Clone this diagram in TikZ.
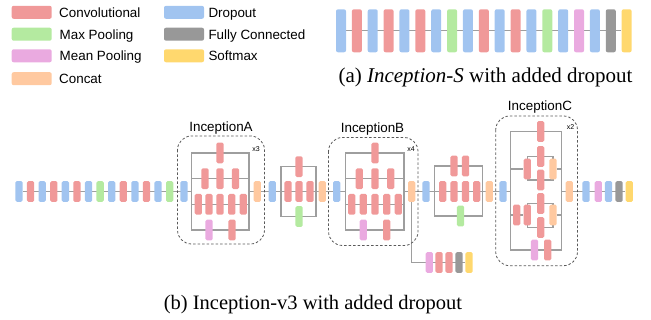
\documentclass[tikz,border=0pt]{standalone}
\usepackage{fontspec}
\setmainfont{Liberation Serif}
\setsansfont{Liberation Sans}
\usetikzlibrary{backgrounds}
\definecolor{cConv}{RGB}{240,153,153}
\definecolor{cMax}{RGB}{180,234,160}
\definecolor{cMean}{RGB}{234,170,224}
\definecolor{cCat}{RGB}{255,201,160}
\definecolor{cDrop}{RGB}{161,196,240}
\definecolor{cFC}{RGB}{152,152,152}
\definecolor{cSoft}{RGB}{255,216,110}
\definecolor{cLine}{RGB}{158,158,158}
\definecolor{cDash}{RGB}{90,90,90}
\begin{document}
\begin{tikzpicture}[x=1pt,y=-1pt,
 blk/.style={rectangle, rounded corners=1.5pt, minimum width=7.3pt, minimum height=20.7pt, inner sep=0pt, draw=none},
 bigblk/.style={rectangle, rounded corners=2pt, minimum width=10pt, minimum height=43pt, inner sep=0pt, draw=none},
 swatch/.style={rectangle, rounded corners=2pt, minimum width=40pt, minimum height=13pt, inner sep=0pt, draw=none},
 kConv/.style={fill=cConv}, kMax/.style={fill=cMax}, kMean/.style={fill=cMean},
 kCat/.style={fill=cCat}, kDrop/.style={fill=cDrop}, kFC/.style={fill=cFC}, kSoft/.style={fill=cSoft},
 legtxt/.style={anchor=base west, inner sep=0pt, font=\sffamily\fontsize{13.4}{16}\selectfont},
 modtxt/.style={anchor=base, inner sep=0pt, font=\sffamily\fontsize{13.4}{16}\selectfont},
 reptxt/.style={inner sep=0pt, font=\sffamily\fontsize{7}{8}\selectfont},
 captxt/.style={anchor=base, inner sep=0pt, font=\fontsize{20.5}{24}\selectfont},
 conn/.style={draw=cLine, line width=1.1pt},
 modbox/.style={draw=cDash, dash pattern=on 2.5pt off 2pt, line width=0.8pt, rounded corners=14pt},
]
\useasboundingbox (0,0) rectangle (651,320);

% ---------------- legend ----------------
\node[swatch,kConv] (lg1) at (31.7,12.3) {};
\node[swatch,kMax]  (lg2) at (31.7,34.2) {};
\node[swatch,kMean] (lg3) at (31.7,55.8) {};
\node[swatch,kCat]  (lg4) at (31.7,78.7) {};
\node[swatch,kDrop] (lg5) at (184,12.3) {};
\node[swatch,kFC]   (lg6) at (184,34.2) {};
\node[swatch,kSoft] (lg7) at (184,55.8) {};
\node[legtxt] (lt1) at (59,17.3) {Convolutional};
\node[legtxt] (lt2) at (59.5,39.2) {Max Pooling};
\node[legtxt] (lt3) at (59.5,60.8) {Mean Pooling};
\node[legtxt] (lt4) at (59,83.7) {Concat};
\node[legtxt] (lt5) at (208.3,17.3) {Dropout};
\node[legtxt] (lt6) at (208.3,39.2) {Fully Connected};
\node[legtxt] (lt7) at (208.3,60.8) {Softmax};

% ---------------- (a) Inception-S ----------------
\foreach \c [count=\i from 0] in {cDrop,cConv,cDrop,cConv,cDrop,cConv,cDrop,cMax,cDrop,cConv,cDrop,cConv,cDrop,cMax,cDrop,cMean,cDrop,cFC,cSoft}
  \node[bigblk,fill=\c] (s\i) at ({341+15.87*\i},30.8) {};
\node[captxt,font=\fontsize{21}{24}\selectfont] (capa) at (485.5,83) {(a) \textit{Inception-S} with added dropout};

% ---------------- (b) stem ----------------
\foreach \c [count=\i from 0] in {cDrop,cConv,cDrop,cConv,cDrop,cConv,cDrop,cMax,cDrop,cConv,cDrop,cConv,cDrop,cMax}
  \node[blk,fill=\c] (p\i) at ({19+11.59*\i},191.5) {};

% ---------------- InceptionA ----------------
\node[blk,kDrop] (Ain) at (184,191.5) {};
\coordinate (ATL) at (191.7,153); \coordinate (ABR) at (249,230);
\coordinate (A2L) at (191.7,178.7); \coordinate (A2R) at (249,178.7);
\coordinate (A3L) at (191.7,204.3); \coordinate (A3R) at (249,204.3);
\coordinate (AL) at (191.7,191.5); \coordinate (AR) at (249,191.5);
\node[blk,kConv] (a1) at (220,153) {};
\node[blk,kConv] (a21) at (205,178.7) {};
\node[blk,kConv] (a22) at (220,178.7) {};
\node[blk,kConv] (a23) at (235.5,178.7) {};
\node[blk,kConv] (a31) at (198.3,204.3) {};
\node[blk,kConv] (a32) at (209,204.3) {};
\node[blk,kConv] (a33) at (220,204.3) {};
\node[blk,kConv] (a34) at (231.7,204.3) {};
\node[blk,kConv] (a35) at (243.3,204.3) {};
\node[blk,kMean] (a41) at (209,230) {};
\node[blk,kConv] (a42) at (232,230) {};
\node[blk,kCat] (Acat) at (257.3,191.5) {};
\draw[modbox] (177.5,136) rectangle (264.5,244);
\node[modtxt] (labA) at (221,131.5) {InceptionA};
\node[reptxt] (repA) at (256,149) {x3};

% ---------------- Reduction A ----------------
\node[blk,kDrop] (RAin) at (272.3,191.5) {};
\coordinate (RATL) at (281,166.7); \coordinate (RABR) at (316,216.5);
\node[blk,kConv] (ra1) at (299,166.7) {};
\node[blk,kConv] (ra21) at (288,191.5) {};
\node[blk,kConv] (ra22) at (299,191.5) {};
\node[blk,kConv] (ra23) at (310,191.5) {};
\node[blk,kMax] (ra3) at (299,216.5) {};
\node[blk,kCat] (RAcat) at (322.3,191.5) {};

% ---------------- InceptionB ----------------
\node[blk,kDrop] (Bin) at (336.7,191.5) {};
\coordinate (BTL) at (345.7,153); \coordinate (BBR) at (404,230);
\coordinate (B2L) at (345.7,178.7); \coordinate (B2R) at (404,178.7);
\coordinate (B3L) at (345.7,204.3); \coordinate (B3R) at (404,204.3);
\coordinate (BL) at (345.7,191.5); \coordinate (BR) at (404,191.5);
\node[blk,kConv] (b1) at (375,153) {};
\node[blk,kConv] (b21) at (359.3,178.7) {};
\node[blk,kConv] (b22) at (375,178.7) {};
\node[blk,kConv] (b23) at (390.7,178.7) {};
\node[blk,kConv] (b31) at (351.7,204.3) {};
\node[blk,kConv] (b32) at (363.3,204.3) {};
\node[blk,kConv] (b33) at (375,204.3) {};
\node[blk,kConv] (b34) at (386.7,204.3) {};
\node[blk,kConv] (b35) at (398.3,204.3) {};
\node[blk,kMean] (b41) at (363.3,230) {};
\node[blk,kConv] (b42) at (386.7,230) {};
\node[blk,kCat] (Bcat) at (411.7,191.5) {};
\draw[modbox] (328.5,137.5) rectangle (418,245.5);
\node[modtxt] (labB) at (372.5,133) {InceptionB};
\node[reptxt] (repB) at (411,149.5) {x4};

% auxiliary head
\coordinate (auxc) at (411.7,262.5);
\node[blk,kMean] (x0) at (429.3,262.5) {};
\node[blk,kConv] (x1) at (439,262.5) {};
\node[blk,kConv] (x2) at (449,262.5) {};
\node[blk,kFC]   (x3) at (459,262.5) {};
\node[blk,kSoft] (x4) at (469,262.5) {};

% ---------------- Reduction B ----------------
\node[blk,kDrop] (RBin) at (426,191.5) {};
\coordinate (RBTL) at (434.3,166); \coordinate (RBBR) at (482.7,216);
\node[blk,kConv] (rb11) at (454,166) {};
\node[blk,kConv] (rb12) at (465.5,166) {};
\node[blk,kConv] (rb21) at (442.7,191.5) {};
\node[blk,kConv] (rb22) at (454,191.5) {};
\node[blk,kConv] (rb23) at (465.5,191.5) {};
\node[blk,kConv] (rb24) at (476.7,191.5) {};
\node[blk,kMax] (rb3) at (460.5,216) {};
\node[blk,kCat] (RBcat) at (489.3,191.5) {};

% ---------------- InceptionC ----------------
\node[blk,kDrop] (Cin) at (503,191.5) {};
\coordinate (CTL) at (510.7,131.5); \coordinate (CBR) at (561.7,250);
\coordinate (CL) at (510.7,191.5); \coordinate (CR) at (561.7,191.5);
\node[blk,kConv] (c1) at (540.7,131.5) {};
% branch 2
\coordinate (C2L) at (510.7,169); \coordinate (C2R) at (561.7,169);
\coordinate (C2s1) at (527.3,156.5); \coordinate (C2s2) at (553,180);
\node[blk,kConv] (c2a) at (527.3,169) {};
\node[blk,kConv] (c2u) at (540.7,156.5) {};
\node[blk,kConv] (c2d) at (540.7,180) {};
\node[blk,kCat] (c2cat) at (553,169) {};
% branch 3
\coordinate (C3L) at (510.7,215); \coordinate (C3R) at (561.7,215);
\coordinate (C3s1) at (527.3,203.5); \coordinate (C3s2) at (553,227.5);
\node[blk,kConv] (c3a) at (516.7,215) {};
\node[blk,kConv] (c3b) at (527.3,215) {};
\node[blk,kConv] (c3u) at (540.7,203.5) {};
\node[blk,kConv] (c3d) at (540.7,227.5) {};
\node[blk,kCat] (c3cat) at (553,215) {};
% branch 4
\node[blk,kMean] (c41) at (534.5,250) {};
\node[blk,kConv] (c42) at (547.7,250) {};
\node[blk,kCat] (Ccat) at (569.3,191.5) {};
\draw[modbox] (495.7,116) rectangle (577.5,265.7);
\node[modtxt] (labC) at (540,111) {InceptionC};
\node[reptxt] (repC) at (570.5,127.5) {x2};

% ---------------- head ----------------
\node[blk,kDrop] (f0) at (586,191.5) {};
\node[blk,kMean] (f1) at (598.3,191.5) {};
\node[blk,kDrop] (f2) at (608.5,191.5) {};
\node[blk,kFC]   (f3) at (619,191.5) {};
\node[blk,kSoft] (f4) at (629.3,191.5) {};

\node[captxt] (capb) at (313,310) {(b) Inception-v3 with added dropout};

% ---------------- connectors ----------------
\begin{scope}[on background layer]
  \draw[conn] (s0) -- (s18);
  \draw[conn] (p0) -- (AL);
  \draw[conn] (AR) -- (BL);
  \draw[conn] (BR) -- (CL);
  \draw[conn] (CR) -- (f4);
  % InceptionA frame
  \draw[conn] (ATL) rectangle (ABR);
  \draw[conn] (A2L) -- (A2R);
  \draw[conn] (A3L) -- (A3R);
  % Reduction A frame
  \draw[conn] (RATL) rectangle (RABR);
  % InceptionB frame
  \draw[conn] (BTL) rectangle (BBR);
  \draw[conn] (B2L) -- (B2R);
  \draw[conn] (B3L) -- (B3R);
  % aux
  \draw[conn] (Bcat.center) -- (auxc) -- (x4);
  % Reduction B frame
  \draw[conn] (RBTL) rectangle (RBBR);
  % InceptionC frame
  \draw[conn] (CTL) rectangle (CBR);
  \draw[conn] (C2L) -- (c2a);
  \draw[conn] (C2s1) rectangle (C2s2);
  \draw[conn] (c2cat) -- (C2R);
  \draw[conn] (C3L) -- (c3b);
  \draw[conn] (C3s1) rectangle (C3s2);
  \draw[conn] (c3cat) -- (C3R);
\end{scope}
\end{tikzpicture}
\end{document}
